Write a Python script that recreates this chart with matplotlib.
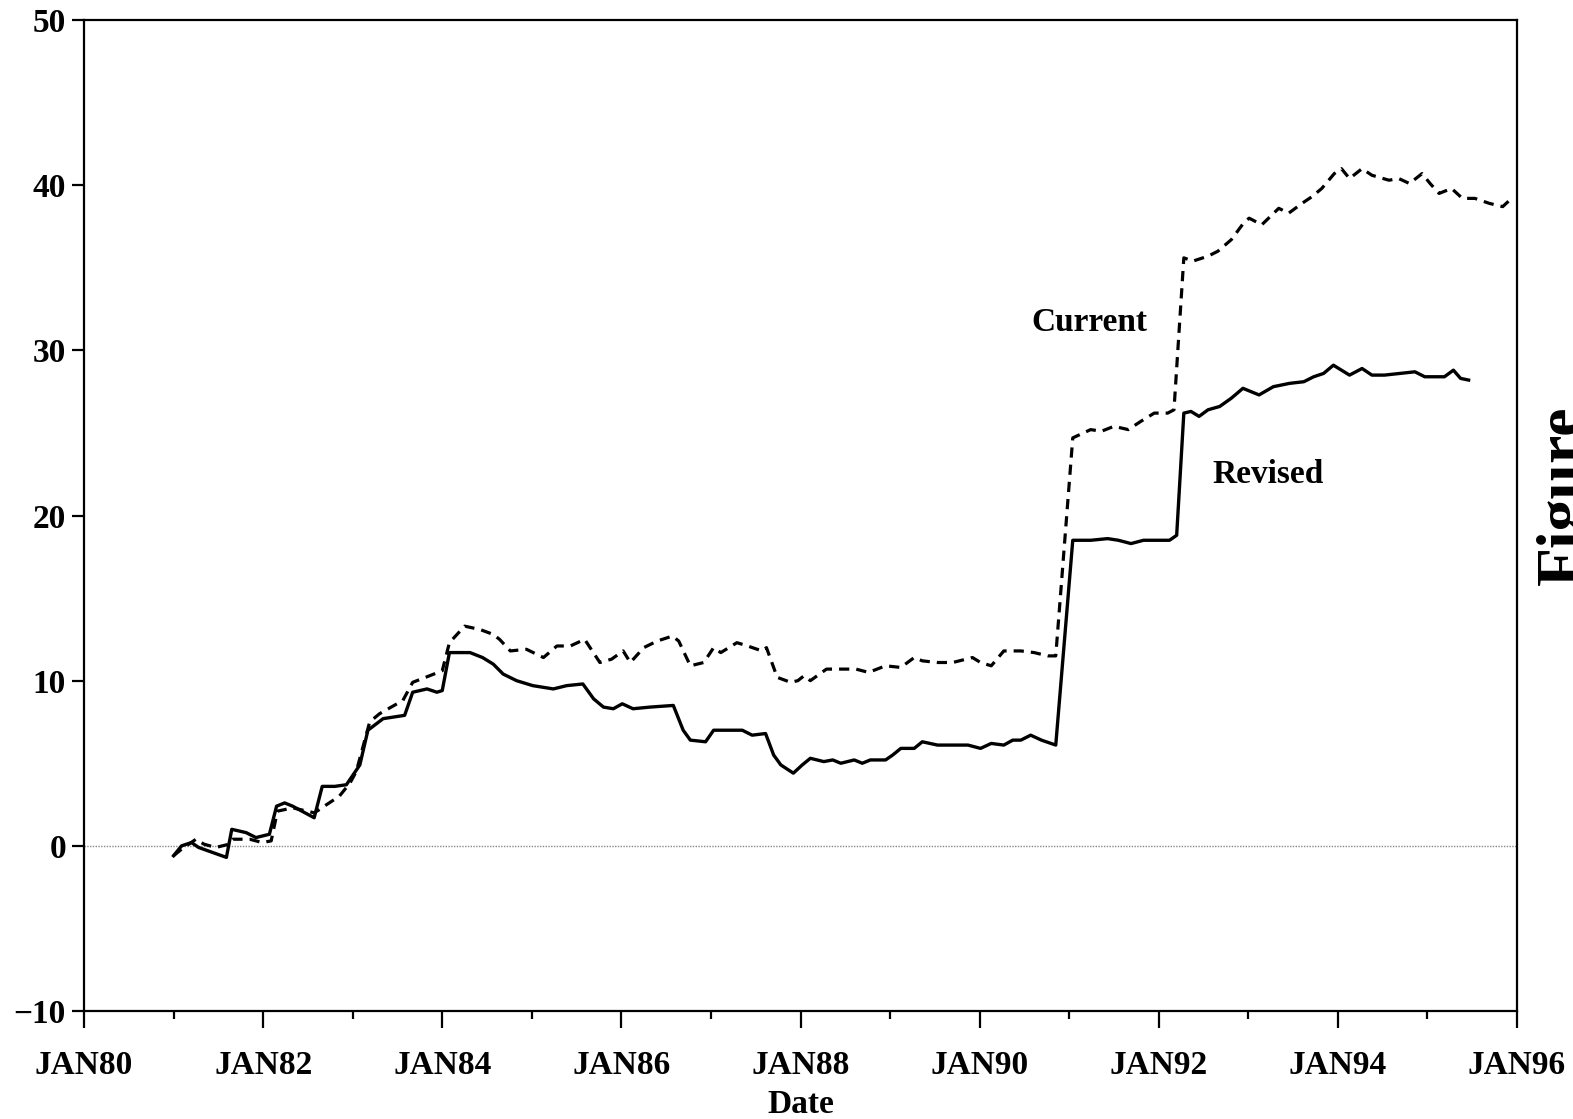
import matplotlib.pyplot as plt
import numpy as np

# decimal years, values
revised_t = [1981.00, 1981.09, 1981.20, 1981.28, 1981.59, 1981.65, 1981.81, 1981.92,
             1982.07, 1982.15, 1982.24, 1982.33, 1982.57, 1982.66, 1982.80, 1982.93,
             1983.08, 1983.17, 1983.34, 1983.58, 1983.67, 1983.83, 1983.94, 1984.00,
             1984.08, 1984.31, 1984.45, 1984.57, 1984.68, 1984.83, 1985.01, 1985.24,
             1985.39, 1985.57, 1985.69, 1985.80, 1985.91, 1986.01, 1986.13, 1986.32,
             1986.58, 1986.69, 1986.77, 1986.94, 1987.03, 1987.18, 1987.35, 1987.46,
             1987.61, 1987.70, 1987.78, 1987.92, 1988.02, 1988.11, 1988.26, 1988.36,
             1988.45, 1988.60, 1988.69, 1988.78, 1988.95, 1989.03, 1989.12, 1989.27,
             1989.36, 1989.53, 1989.71, 1989.87, 1990.01, 1990.13, 1990.27, 1990.37,
             1990.46, 1990.57, 1990.69, 1990.85, 1991.04, 1991.24, 1991.43, 1991.55,
             1991.69, 1991.83, 1991.99, 1992.12, 1992.20, 1992.28, 1992.36, 1992.45,
             1992.55, 1992.68, 1992.81, 1992.94, 1993.12, 1993.28, 1993.46, 1993.62,
             1993.73, 1993.84, 1993.95, 1994.13, 1994.27, 1994.38, 1994.52, 1994.69,
             1994.86, 1994.97, 1995.19, 1995.29, 1995.37, 1995.46]
revised_v = [-0.6, 0.0, 0.2, -0.1, -0.7, 1.0, 0.8, 0.5,
             0.7, 2.4, 2.6, 2.4, 1.7, 3.6, 3.6, 3.7,
             4.9, 7.0, 7.7, 7.9, 9.3, 9.5, 9.3, 9.4,
             11.7, 11.7, 11.4, 11.0, 10.4, 10.0, 9.7, 9.5,
             9.7, 9.8, 8.9, 8.4, 8.3, 8.6, 8.3, 8.4,
             8.5, 7.0, 6.4, 6.3, 7.0, 7.0, 7.0, 6.7,
             6.8, 5.5, 4.9, 4.4, 4.9, 5.3, 5.1, 5.2,
             5.0, 5.2, 5.0, 5.2, 5.2, 5.5, 5.9, 5.9,
             6.3, 6.1, 6.1, 6.1, 5.9, 6.2, 6.1, 6.4,
             6.4, 6.7, 6.4, 6.1, 18.5, 18.5, 18.6, 18.5,
             18.3, 18.5, 18.5, 18.5, 18.8, 26.2, 26.3, 26.0,
             26.4, 26.6, 27.1, 27.7, 27.3, 27.8, 28.0, 28.1,
             28.4, 28.6, 29.1, 28.5, 28.9, 28.5, 28.5, 28.6,
             28.7, 28.4, 28.4, 28.8, 28.3, 28.2]

current_t = [1981.00, 1981.09, 1981.25, 1981.34, 1981.47, 1981.62, 1981.66, 1981.85,
             1981.99, 1982.09, 1982.16, 1982.33, 1982.57, 1982.63, 1982.71, 1982.85,
             1982.97, 1983.04, 1983.19, 1983.30, 1983.56, 1983.67, 1983.86, 1984.00,
             1984.08, 1984.25, 1984.42, 1984.57, 1984.64, 1984.76, 1984.94, 1985.13,
             1985.28, 1985.43, 1985.59, 1985.76, 1985.89, 1986.02, 1986.10, 1986.25,
             1986.40, 1986.57, 1986.64, 1986.77, 1986.92, 1987.03, 1987.11, 1987.29,
             1987.41, 1987.57, 1987.62, 1987.74, 1987.89, 1987.97, 1988.04, 1988.11,
             1988.29, 1988.45, 1988.62, 1988.76, 1988.95, 1989.12, 1989.27, 1989.36,
             1989.53, 1989.70, 1989.92, 1990.01, 1990.13, 1990.27, 1990.46, 1990.61,
             1990.76, 1990.85, 1991.04, 1991.24, 1991.36, 1991.50, 1991.66, 1991.80,
             1991.95, 1992.10, 1992.17, 1992.28, 1992.38, 1992.55, 1992.66, 1992.81,
             1992.96, 1993.01, 1993.15, 1993.34, 1993.45, 1993.60, 1993.71, 1993.82,
             1993.96, 1994.04, 1994.13, 1994.27, 1994.38, 1994.57, 1994.68, 1994.80,
             1994.94, 1995.03, 1995.13, 1995.27, 1995.39, 1995.53, 1995.69, 1995.84,
             1995.92]
current_v = [-0.6, -0.2, 0.4, 0.1, -0.1, 0.1, 0.4, 0.4,
             0.2, 0.3, 2.1, 2.3, 2.0, 2.2, 2.5, 3.0,
             3.8, 4.5, 7.5, 8.0, 8.8, 9.9, 10.3, 10.6,
             12.3, 13.3, 13.1, 12.8, 12.5, 11.8, 11.9, 11.4,
             12.1, 12.1, 12.5, 11.1, 11.3, 11.8, 11.1, 12.0,
             12.4, 12.7, 12.4, 10.9, 11.1, 12.0, 11.7, 12.3,
             12.1, 11.8, 12.0, 10.2, 9.9, 10.0, 10.3, 10.0,
             10.7, 10.7, 10.7, 10.5, 10.9, 10.8, 11.4, 11.2,
             11.1, 11.1, 11.4, 11.1, 10.9, 11.8, 11.8, 11.7,
             11.5, 11.5, 24.7, 25.2, 25.1, 25.4, 25.2, 25.7,
             26.2, 26.2, 26.4, 35.6, 35.4, 35.7, 36.0, 36.7,
             37.8, 38.0, 37.6, 38.6, 38.3, 38.9, 39.3, 39.8,
             40.7, 41.0, 40.4, 41.0, 40.6, 40.3, 40.4, 40.1,
             40.7, 40.1, 39.5, 39.8, 39.2, 39.2, 38.9, 38.7,
             39.1]

year_ticks = list(range(1980, 1997, 2))
year_labels = ["JAN80", "JAN82", "JAN84", "JAN86", "JAN88", "JAN90", "JAN92", "JAN94", "JAN96"]
y_ticks = [-10, 0, 10, 20, 30, 40, 50]

plt.rcParams['font.family'] = ['Liberation Serif', 'DejaVu Serif']
plt.rcParams['font.weight'] = 'bold'

fig = plt.figure(figsize=(15.73, 11.19), dpi=100)
ax = fig.add_axes([84 / 1573, 1 - 1011 / 1119, (1517 - 84) / 1573, (1011 - 20) / 1119])

ax.axhline(0, color='#888888', lw=1.0, ls=(0, (1, 1)))
ax.plot(revised_t, revised_v, color='black', lw=2.4, solid_joinstyle='round')
ax.plot(current_t, current_v, color='black', lw=2.3, ls=(0, (3.2, 2.2)))

ax.set_xlim(1980, 1996)
ax.set_ylim(-10, 50)
ax.set_xticks(year_ticks)
ax.set_xticklabels(year_labels)
ax.set_xticks(np.arange(1981, 1996, 2), minor=True)
ax.set_yticks(y_ticks)

for sp in ax.spines.values():
    sp.set_linewidth(1.6)

ax.tick_params(axis='x', which='major', direction='out', length=12, width=1.6, pad=16, labelsize=24)
ax.tick_params(axis='x', which='minor', direction='out', length=6, width=1.6)
ax.tick_params(axis='y', direction='out', length=9, width=1.6, pad=4, labelsize=24)
for lab in ax.get_xticklabels() + ax.get_yticklabels():
    lab.set_fontweight('bold')

ax.set_xlabel("Date", fontsize=24, fontweight='bold', labelpad=6)

ax.text(1991.22, 31.7, "Current", fontsize=24, fontweight='bold', ha='center', va='center')
ax.text(1993.22, 22.5, "Revised", fontsize=24, fontweight='bold', ha='center', va='center')

fig.text(1536 / 1573, 1 - 495 / 1119, "Figure", rotation=90, fontsize=46,
         fontweight='bold', ha='left', va='center')

fig.savefig("out.png", dpi=100)
